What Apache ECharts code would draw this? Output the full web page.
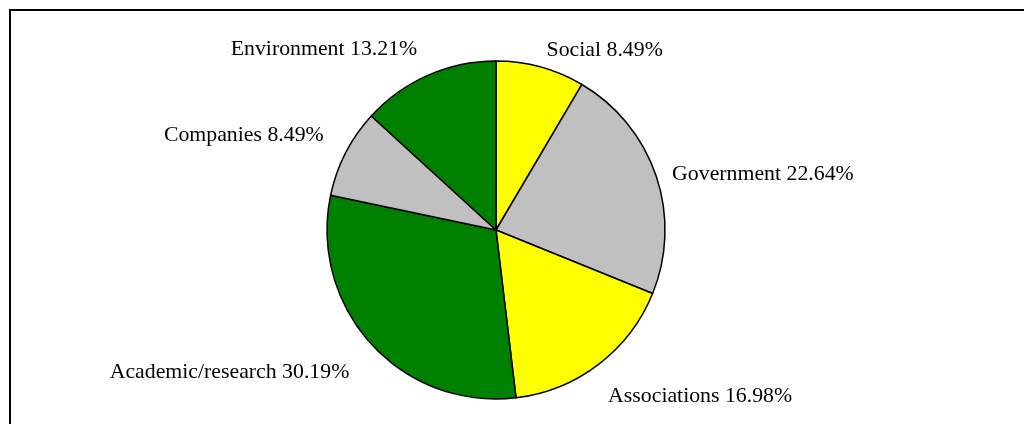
<!DOCTYPE html>
<html><head><meta charset="utf-8">
<script src="https://cdn.jsdelivr.net/npm/echarts@6/dist/echarts.min.js"></script>
<style>html,body{margin:0;padding:0;background:#fff}#c{width:1024px;height:424px}</style>
</head><body><div id="c"></div>
<script>
const categories = ['Social', 'Government', 'Associations', 'Academic/research', 'Companies', 'Environment'];
const values = [8.49, 22.64, 16.98, 30.19, 8.49, 13.21];
const colors = ['#FFFF00', '#C0C0C0', '#FFFF00', '#008000', '#C0C0C0', '#008000'];
const labelDx = [0, -3, -3, -7, -4, -2];
const labelDy = [2, 4, 17, 15, -9, -9];

const chart = echarts.init(document.getElementById('c'), null, {renderer: 'canvas'});
chart.setOption({
  animation: false,
  backgroundColor: '#fff',
  graphic: [
    {type: 'line', shape: {x1: 9, y1: 10, x2: 1024, y2: 10}, style: {stroke: '#000', lineWidth: 2}},
    {type: 'line', shape: {x1: 10, y1: 10, x2: 10, y2: 424}, style: {stroke: '#000', lineWidth: 2}}
  ],
  series: [{
    type: 'pie',
    center: [496, 230],
    radius: [0, 169],
    startAngle: 90,
    clockwise: true,
    avoidLabelOverlap: false,
    data: categories.map((n, i) => ({name: n, value: values[i], itemStyle: {color: colors[i]}})),
    itemStyle: {borderColor: '#000', borderWidth: 1.5},
    label: {
      show: true,
      position: 'outside',
      formatter: p => p.name + ' ' + p.value.toFixed(2) + '%',
      fontFamily: 'Liberation Serif',
      fontSize: 21.8,
      color: '#000',
      distanceToLabelLine: 1
    },
    labelLine: {show: false, length: 19, length2: 0},
    labelLayout: p => ({dx: labelDx[p.dataIndex], dy: labelDy[p.dataIndex]}),
    emphasis: {disabled: true}
  }]
});
</script></body></html>
